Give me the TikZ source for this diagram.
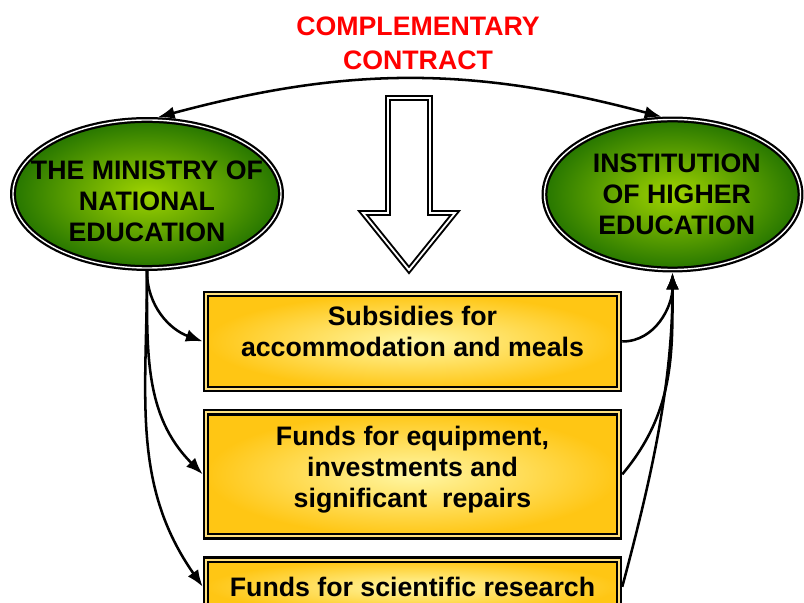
\documentclass[tikz,border=0pt]{standalone}
\usepackage{fontspec}
\setmainfont{Liberation Sans}
\usetikzlibrary{positioning, arrows.meta, shapes.geometric}
\definecolor{leafdark}{RGB}{38,118,0}
\definecolor{leaflight}{RGB}{160,212,0}
\definecolor{golddark}{RGB}{255,198,20}
\definecolor{goldlight}{RGB}{255,247,165}
\tikzset{
>={Latex[length=12pt, width=9pt]}, % filled arrow heads
node distance=0.42cm, % gap between the stacked boxes
every node/.style={font=\bfseries\fontsize{19}{22}\selectfont, align=center},
title/.style={text=red, font=\bfseries\fontsize{19}{24}\selectfont}, % red heading
body/.style={ellipse, draw=black, line width=1.6pt, double=white, double distance=1pt, inner color=leaflight, outer color=leafdark, inner sep=0pt, outer sep=2.1pt}, % green ellipses
fund/.style={rectangle, draw=black, line width=1.6pt, double=golddark!55!white, double distance=1.5pt, inner color=goldlight, outer color=golddark, minimum width=10.32cm, outer sep=2.35pt}, % yellow boxes
hollow/.style={draw=black, line width=1.4pt, double=white, double distance=1.3pt, line join=miter}, % big empty arrow
flow/.style={->, line width=1.8pt}, % curved connectors
}

\begin{document}
\begin{tikzpicture}[x=0.025cm, y=0.025cm]
\useasboundingbox (0,0) rectangle (804,-603);

\node[title] (contract) at (418,-43) {COMPLEMENTARY\\CONTRACT};

\node[body, minimum width=6.7cm, minimum height=3.7cm] (min) at (147,-194) {};
\node (mintext) at ([yshift=-5pt]min.center) {THE MINISTRY OF\\NATIONAL\\EDUCATION};
\node[body, minimum width=6.4cm, minimum height=3.75cm] (inst) at (672.5,-194.5) {};
\node (insttext) at ([xshift=3pt]inst.center) {INSTITUTION\\OF HIGHER\\EDUCATION};

\draw[hollow] (388,-98) -- (430,-98) -- (430,-213) -- (455,-213) -- (409,-270)
  -- (363,-213) -- (388,-213) -- cycle;

\node[fund, minimum height=2.37cm, text depth=15pt] (sub) at (412.5,-341.5) {Subsidies for\\accommodation and meals};
\node[fund, minimum height=3.1cm, text depth=11pt, below=of sub] (equip) {Funds for equipment,\\investments and\\significant\ \ repairs};
\node[fund, minimum height=1.35cm, below=of equip] (res) {Funds for scientific research};

\draw
(min.82) edge[flow, <->, bend left=15] (inst.98)
(min.south) edge[flow, out=-90, in=160] (sub.west)
(min.south) edge[flow, out=-90, in=135] (equip.west)
(min.south) edge[flow, out=-90, in=125] (res.west)
(sub.east) edge[flow, out=0, in=-90] (inst.south)
(equip.east) edge[flow, out=50, in=-90] (inst.south)
(res.east) edge[flow, out=75, in=-90, looseness=0.9] (inst.south);
\end{tikzpicture}
\end{document}
